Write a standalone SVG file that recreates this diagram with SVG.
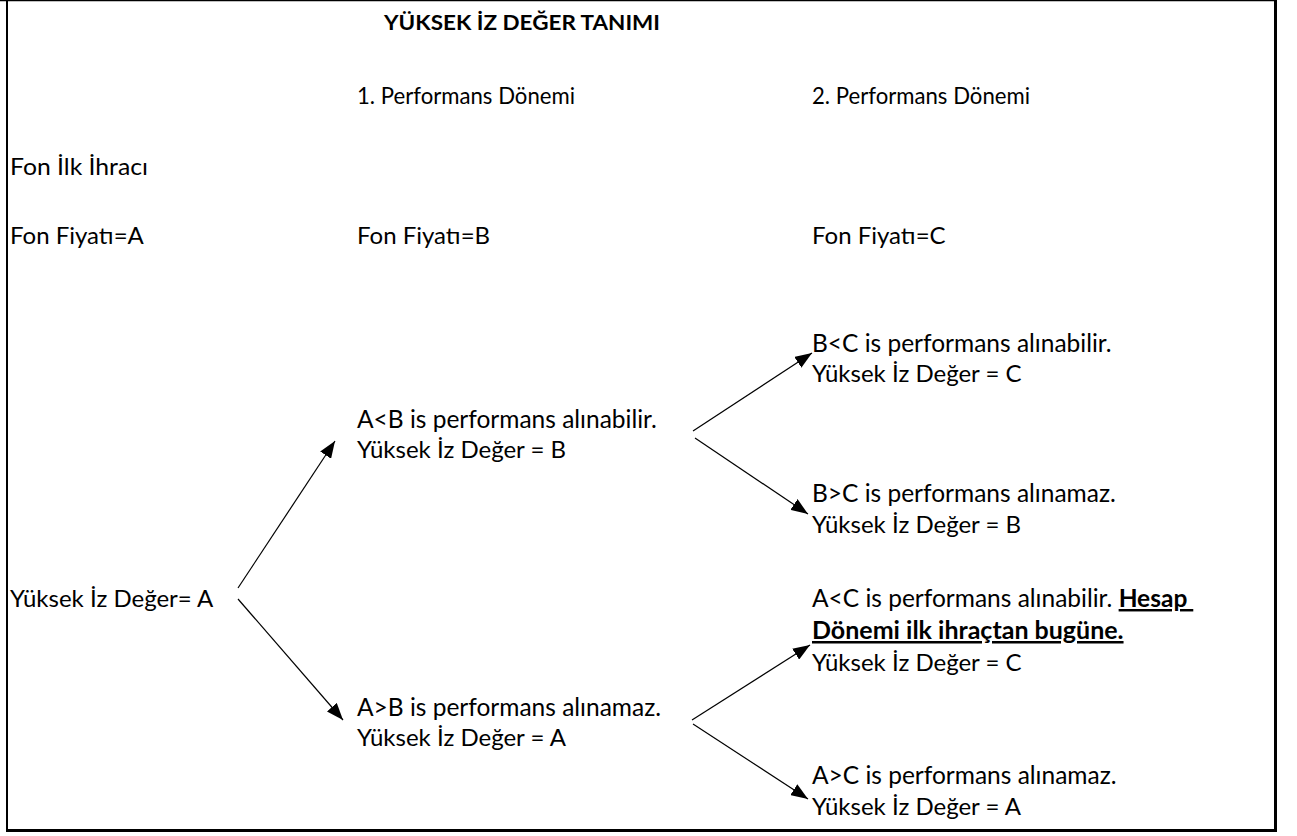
<svg xmlns="http://www.w3.org/2000/svg" width="1297" height="836" viewBox="0 0 1297 836">
<defs>
<style>
text{font-family:Lato,"Liberation Sans",sans-serif;font-size:24px;fill:#000}
.title{font-weight:bold;font-size:21.5px}
.h{font-size:23px}
.l1{font-size:24.5px}
.b{font-weight:bold;text-decoration:underline}
.c line{stroke:#000;stroke-width:1.2;marker-end:url(#ah)}
</style>
<marker id="ah" markerUnits="userSpaceOnUse" markerWidth="18" markerHeight="13" refX="17" refY="6.5" orient="auto">
<path d="M0,0 L17,6.5 L0,13 Z" fill="#000"/>
</marker>
</defs>
<rect width="1297" height="836" fill="#fff"/>
<g id="frame" fill="none" stroke="#000">
<line x1="0" y1="0.5" x2="1277" y2="0.5" stroke-width="1.5"/>
<line x1="7" y1="0" x2="7" y2="832" stroke-width="2"/>
<line x1="1275.5" y1="0" x2="1275.5" y2="832" stroke-width="3"/>
<line x1="6" y1="830.5" x2="1277" y2="830.5" stroke-width="3"/>
</g>
<g id="title"><text class="title" x="384" y="30" textLength="276" lengthAdjust="spacingAndGlyphs">YÜKSEK İZ DEĞER TANIMI</text></g>
<g id="headers">
<text class="h" x="357" y="104" textLength="218" lengthAdjust="spacingAndGlyphs">1. Performans Dönemi</text>
<text class="h" x="812" y="104" textLength="218" lengthAdjust="spacingAndGlyphs">2. Performans Dönemi</text>
</g>
<g id="start">
<text x="10" y="175" textLength="138" lengthAdjust="spacingAndGlyphs">Fon İlk İhracı</text>
<text x="10" y="244">Fon Fiyatı=A</text>
</g>
<g id="priceB"><text x="357" y="244">Fon Fiyatı=B</text></g>
<g id="priceC"><text x="812" y="244">Fon Fiyatı=C</text></g>
<g id="root"><text x="10" y="607">Yüksek İz Değer= A</text></g>
<g id="n1">
<text class="l1" x="357" y="428">A&lt;B is performans alınabilir.</text>
<text x="357" y="458">Yüksek İz Değer = B</text>
</g>
<g id="n2">
<text class="l1" x="357" y="716">A&gt;B is performans alınamaz.</text>
<text x="357" y="746">Yüksek İz Değer = A</text>
</g>
<g id="n3">
<text class="l1" x="812" y="352">B&lt;C is performans alınabilir.</text>
<text x="812" y="382">Yüksek İz Değer = C</text>
</g>
<g id="n4">
<text class="l1" x="812" y="502">B&gt;C is performans alınamaz.</text>
<text x="812" y="533">Yüksek İz Değer = B</text>
</g>
<g id="n5">
<text class="l1" x="812" y="607">A&lt;C is performans alınabilir. <tspan class="b">Hesap&#160;</tspan></text>
<text x="812" y="639" class="b" style="font-size:25px">Dönemi ilk ihraçtan bugüne.</text>
<text x="812" y="671">Yüksek İz Değer = C</text>
</g>
<g id="n6">
<text class="l1" x="812" y="784">A&gt;C is performans alınamaz.</text>
<text x="812" y="815">Yüksek İz Değer = A</text>
</g>
<g id="connectors" class="c">
<line x1="238" y1="588" x2="335" y2="441"/>
<line x1="238" y1="599" x2="343" y2="720"/>
<line x1="693" y1="431" x2="812" y2="353"/>
<line x1="695" y1="438" x2="808" y2="514"/>
<line x1="692" y1="720" x2="810" y2="645"/>
<line x1="693" y1="724" x2="808" y2="799"/>
</g>
</svg>
